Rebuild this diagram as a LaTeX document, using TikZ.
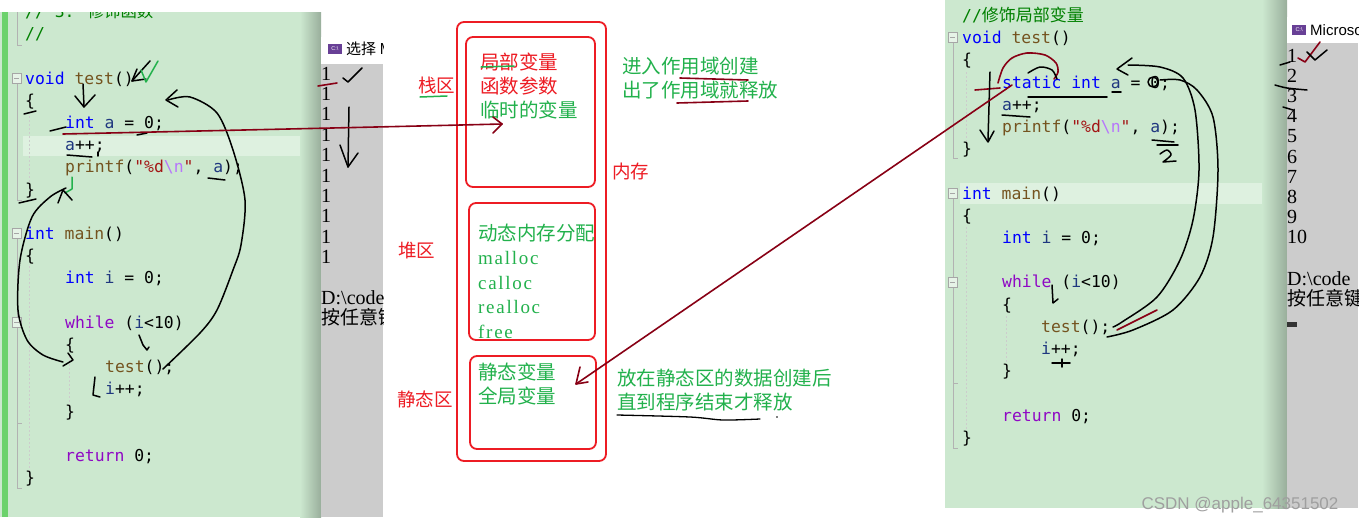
\documentclass[tikz,border=0pt]{standalone}
\usepackage{fontspec}
\setmainfont{Liberation Serif}
\newfontfamily\cjk{Noto Sans CJK SC}
\newfontfamily\codefont{DejaVu Sans Mono}
\newfontfamily\uifont{Liberation Sans}
\newfontfamily\spacedserif{Liberation Serif}[LetterSpace=9]
\definecolor{pgreen}{RGB}{204,232,207}
\definecolor{phl}{RGB}{222,241,224}
\definecolor{pbar}{RGB}{108,210,108}
\definecolor{cgray}{RGB}{204,204,204}
\definecolor{kw}{RGB}{0,0,255}
\definecolor{fn}{RGB}{116,83,31}
\definecolor{var}{RGB}{31,55,127}
\definecolor{str}{RGB}{163,21,21}
\definecolor{esc}{RGB}{183,118,251}
\definecolor{ctl}{RGB}{143,8,196}
\definecolor{cmt}{RGB}{0,128,0}
\definecolor{mred}{RGB}{237,28,36}
\definecolor{mgreen}{RGB}{34,177,76}
\definecolor{dred}{RGB}{136,0,21}
\definecolor{icon}{RGB}{104,64,150}
\tikzset{
  code/.style={anchor=base west, inner sep=0, font=\codefont\fontsize{16.4}{18}\selectfont},
  cons/.style={anchor=base west, inner sep=0, font=\fontsize{20}{22}\selectfont},
  conscjk/.style={anchor=base west, inner sep=0, font=\cjk\fontsize{19}{22}\selectfont},
  lbl/.style={anchor=west, inner sep=0, font=\cjk\fontsize{19.5}{22}\selectfont},
  latinlbl/.style={anchor=west, inner sep=0, font=\spacedserif\fontsize{19}{22}\selectfont},
  hw/.style={draw=black, line width=1.5pt, line cap=round, line join=round},
  hwr/.style={draw=dred, line width=1.6pt, line cap=round, line join=round},
  hwg/.style={draw=mgreen, line width=1.5pt, line cap=round, line join=round},
  membox/.style={draw=mred, line width=1.8pt, rounded corners=7pt},
  fold/.style={draw=gray!70, line width=0.7pt, fill=pgreen!50!white},
  guide/.style={draw=gray!60, line width=0.8pt},
  dguide/.style={draw=gray!40, line width=0.7pt, dash pattern=on 2pt off 2pt},
}
\begin{document}
\begin{tikzpicture}[x=1pt,y=-1pt]
\useasboundingbox (0,0) rectangle (1365,525);
\fill[white] (0,0) rectangle (1365,525);

% ================= LEFT PANEL =================
\fill[pgreen] (0,12) rectangle (321,517);
\fill[phl] (23,136) rectangle (321,156);
\shade[left color=pgreen,right color=pgreen!75!black] (300,12) rectangle (321,517);
\fill[pbar] (2,12) rectangle (8,517);
% fold guides
\draw[guide] (17,12) -- (17,45) -- (22,45);
\draw[guide] (17,83) -- (17,200) -- (22,200);
\draw[guide] (17,238) -- (17,488) -- (22,488);
\draw[guide] (17,423) -- (22,423);
\draw[dguide] (29,112) -- (29,185);
\draw[dguide] (29,266) -- (29,475);
\draw[dguide] (69,356) -- (69,405);
\filldraw[fold] (12,73) rectangle (21,83); \draw[gray!70,line width=0.8pt] (14,78) -- (19,78);
\filldraw[fold] (12,228) rectangle (21,238); \draw[gray!70,line width=0.8pt] (14,233) -- (19,233);
\filldraw[fold] (12,317) rectangle (21,327); \draw[gray!70,line width=0.8pt] (14,322) -- (19,322);
\begin{scope}
\clip (0,12) rectangle (321,517);
\node[code] (l0) at (25,17.5) {\textcolor{cmt}{// 3. {\cjk 修饰函数}}};
\node[code] (l1) at (25,39.7) {\textcolor{cmt}{//}};
\node[code] (l3) at (25,84.1) {\textcolor{kw}{void} \textcolor{fn}{test}()};
\node[code] (l4) at (25,106.3) {\{};
\node[code] (l5) at (65,128.5) {\textcolor{kw}{int} \textcolor{var}{a} = 0;};
\node[code] (l6) at (65,150.7) {\textcolor{var}{a}++;};
\node[code] (l7) at (65,172.9) {\textcolor{fn}{printf}(\textcolor{str}{"\%d}\textcolor{esc}{\textbackslash n}\textcolor{str}{"}, \textcolor{var}{a});};
\node[code] (l8) at (25,195.1) {\}};
\node[code] (l10) at (25,239.5) {\textcolor{kw}{int} \textcolor{fn}{main}()};
\node[code] (l11) at (25,261.7) {\{};
\node[code] (l12) at (65,283.9) {\textcolor{kw}{int} \textcolor{var}{i} = 0;};
\node[code] (l14) at (65,328.3) {\textcolor{ctl}{while} (\textcolor{var}{i}<10)};
\node[code] (l15) at (65,350.5) {\{};
\node[code] (l16) at (105,372.7) {\textcolor{fn}{test}();};
\node[code] (l17) at (105,394.9) {\textcolor{var}{i}++;};
\node[code] (l18) at (65,417.1) {\}};
\node[code] (l20) at (65,461.5) {\textcolor{ctl}{return} 0;};
\node[code] (l21) at (25,483.7) {\}};
\end{scope}

% left console
\fill[cgray] (321,64) rectangle (383,517);
\fill[white] (321,37) rectangle (383,64);
\begin{scope}
\clip (321,37) rectangle (383,517);
\fill[icon] (328,44) rectangle (342,54);
\node[white, font=\uifont\fontsize{5.5}{6}\selectfont, inner sep=0] (lic) at (335,49) {C:\textbackslash};
\node[anchor=west, inner sep=0, font=\cjk\fontsize{15}{16}\selectfont] (ltitle) at (346,49) {选择 M};
\foreach \k in {0,...,9} {
  \node[cons] (lc\k) at (321,{80+20.4*\k}) {1};
}
\node[cons] (lcd) at (321,304) {D:\textbackslash code};
\node[conscjk] (lck) at (321,324) {按任意键};
\end{scope}

% ================= RIGHT PANEL =================
\fill[pgreen] (945,0) rectangle (1287,508);
\fill[phl] (960,183) rectangle (1287,204);
\shade[left color=pgreen,right color=pgreen!75!black] (1262,0) rectangle (1287,508);
\draw[guide] (953,42) -- (953,158) -- (958,158);
\draw[guide] (953,197) -- (953,448) -- (958,448);
\draw[guide] (953,383) -- (958,383);
\draw[dguide] (966,72) -- (966,145);
\draw[dguide] (966,227) -- (966,435);
\draw[dguide] (1006,316) -- (1006,365);
\filldraw[fold] (948,32) rectangle (957,42); \draw[gray!70,line width=0.8pt] (950,37) -- (955,37);
\filldraw[fold] (948,188) rectangle (957,198); \draw[gray!70,line width=0.8pt] (950,193) -- (955,193);
\filldraw[fold] (948,277) rectangle (957,287); \draw[gray!70,line width=0.8pt] (950,282) -- (955,282);
\node[code] (r0) at (962,21.5) {\textcolor{cmt}{//{\cjk\fontsize{17}{18}\selectfont 修饰局部变量}}};
\node[code] (r1) at (962,43.7) {\textcolor{kw}{void} \textcolor{fn}{test}()};
\node[code] (r2) at (962,65.9) {\{};
\node[code] (r3) at (1002,88.1) {\textcolor{kw}{static} \textcolor{kw}{int} \textcolor{var}{a} = 0;};
\node[code] (r4) at (1002,110.3) {\textcolor{var}{a}++;};
\node[code] (r5) at (1002,132.5) {\textcolor{fn}{printf}(\textcolor{str}{"\%d}\textcolor{esc}{\textbackslash n}\textcolor{str}{"}, \textcolor{var}{a});};
\node[code] (r6) at (962,154.7) {\}};
\node[code] (r8) at (962,199.1) {\textcolor{kw}{int} \textcolor{fn}{main}()};
\node[code] (r9) at (962,221.3) {\{};
\node[code] (r10) at (1002,243.5) {\textcolor{kw}{int} \textcolor{var}{i} = 0;};
\node[code] (r12) at (1002,287.9) {\textcolor{ctl}{while} (\textcolor{var}{i}<10)};
\node[code] (r13) at (1002,310.1) {\{};
\node[code] (r14) at (1041,332.3) {\textcolor{fn}{test}();};
\node[code] (r15) at (1041,354.5) {\textcolor{var}{i}++;};
\node[code] (r16) at (1002,376.7) {\}};
\node[code] (r18) at (1002,421.1) {\textcolor{ctl}{return} 0;};
\node[code] (r19) at (962,443.3) {\}};

% right console
\fill[cgray] (1287,43) rectangle (1358,508);
\fill[white] (1287,17) rectangle (1358,43);
\begin{scope}
\clip (1287,17) rectangle (1358,508);
\fill[icon] (1292,25) rectangle (1306,35);
\node[white, font=\uifont\fontsize{5.5}{6}\selectfont, inner sep=0] (ric) at (1299,30) {C:\textbackslash};
\node[anchor=west, inner sep=0, font=\uifont\fontsize{15}{16}\selectfont] (rtitle) at (1310,30) {Microso};
\foreach \k in {1,...,10} {
  \node[cons] (rc\k) at (1287,{62+20.2*(\k-1)}) {\k};
}
\node[cons] (rcd) at (1287,285) {D:\textbackslash code};
\node[conscjk] (rck) at (1287,305) {按任意键};
\fill[black!80] (1287,322) rectangle (1297,327);
\end{scope}

% ================= MEMORY DIAGRAM =================
\draw[membox] (457,22) rectangle (606,461);
\draw[membox] (466,37) rectangle (595,187);
\draw[membox] (469,203) rectangle (595,340);
\draw[membox] (470,356) rectangle (596,449);
\node[lbl, text=mred, font=\cjk\fontsize{18.5}{20}\selectfont] (zhan) at (418,85) {栈区};
\node[lbl, text=mred, font=\cjk\fontsize{18.5}{20}\selectfont] (dui) at (398,251) {堆区};
\node[lbl, text=mred, font=\cjk\fontsize{18.5}{20}\selectfont] (jing) at (397,399) {静态区};
\node[lbl, text=mred, font=\cjk\fontsize{18.5}{20}\selectfont] (nc) at (612,171) {内存};
\node[lbl, text=mred] (s1) at (480,62) {局部变量};
\node[lbl, text=mred] (s2) at (480,86) {函数参数};
\node[lbl, text=mgreen] (s3) at (480,110) {临时的变量};
\node[lbl, text=mgreen] (n1) at (622,66) {进入作用域创建};
\node[lbl, text=mgreen] (n2) at (622,90) {出了作用域就释放};
\node[lbl, text=mgreen] (h1) at (478,233) {动态内存分配};
\node[latinlbl, text=mgreen] (h2) at (478,258) {malloc};
\node[latinlbl, text=mgreen] (h3) at (478,283) {calloc};
\node[latinlbl, text=mgreen] (h4) at (478,307) {realloc};
\node[latinlbl, text=mgreen] (h5) at (478,332) {free};
\node[lbl, text=mgreen] (j1) at (478,372) {静态变量};
\node[lbl, text=mgreen] (j2) at (478,396) {全局变量};
\node[lbl, text=mgreen] (m1) at (617,378) {放在静态区的数据创建后};
\node[lbl, text=mgreen] (m2) at (617,402) {直到程序结束才释放};
\coordinate (dot) at (777,417);

% underlines in the middle
\draw[hwg] (420,97) -- (447,96);
\draw[hwg] (481,67) -- (514,66);
\draw[hwr] (680,78) -- (748,80);
\draw[hwr] (677,103) -- (748,101);
\draw[hw, line width=1.3pt] plot[smooth] coordinates {(617,415) (690,417) (723,420) (760,419)};
\fill (dot) circle (0.9);

% ================= HANDWRITING LEFT =================
\draw[hw] (150,61) -- (132,81);
\draw[hw] (146,79) -- (132,81) -- (137,69);
\draw[hwg] (141,70) -- (146,82) -- (158,61);
\draw[hw] (83,84) -- (84,106);
\draw[hw] (75,96) -- (84,107) -- (95,95);
\draw[hw] (24,114) -- (36,111);
\draw[hw] (50,131) -- (66,127);
\draw[hw] (137,135) -- (147,133);
\draw[hw] (67,155) -- (92,157);
\draw[hw] (98,152) -- (98,156);
\draw[hw] (208,178) -- (225,180);
\draw[hw] (19,203) -- (36,199);
\draw[hwg] (72,177) -- (72,189) -- (65,193);
\draw[hw] plot[smooth] coordinates {(63,362) (43,355) (27,340) (18,310) (20,260) (32,217) (50,197) (66,188)};
\draw[hw] (68,353) -- (73,360) -- (63,366);
\draw[hw] (58,203) -- (63,190) -- (72,200);
\draw[hw] plot[smooth] coordinates {(163,369) (200,333) (217,310) (233,270) (241,245) (245,200) (233,150) (217,113) (190,97) (168,100)};
\draw[hw] (177,90) -- (166,100) -- (178,107);
\draw[hw] (139,335) -- (143,345) -- (147,350) -- (149,347);
\draw[hw] (95,377) -- (93,395) -- (100,397);
% left console marks
\draw[hw] (343,78) -- (348,82) -- (362,68);
\draw[hwr] (318,86) -- (337,83);
\draw[hw] (349,107) -- (348,167);
\draw[hw] (340,145) -- (348,167) -- (358,153);

% ================= HANDWRITING RIGHT =================
\draw[hwr] plot[smooth] coordinates {(998,83) (1003,68) (1012,58) (1027,53) (1045,55) (1056,63) (1058,72) (1054,79)};
\draw[hw] plot[smooth] coordinates {(1028,73) (1040,67) (1052,70) (1057,79)};
\draw[hw] (1028,97) -- (1107,97);
\draw[hwr] (975,90) -- (1000,88);
\draw[hw] (990,72) -- (988,140);
\draw[hw] (980,130) -- (988,142) -- (994,131);
\draw[hw] (1002,115) -- (1030,117);
\draw[hw] (1112,92) -- (1121,92);
\draw[hw] (1152,140) -- (1174,142);
\draw[hw] (1157,145) -- (1178,145);
\draw[hw] plot[smooth] coordinates {(1160,154) (1167,150) (1171,155) (1163,162)} -- (1176,161);
\draw[hw] (1153,82) ellipse (5 and 5);
\draw[hw] plot[smooth] coordinates {(1128,65) (1160,67) (1183,78) (1195,110) (1199,170) (1193,220) (1180,260) (1157,297) (1122,322) (1113,327)};
\draw[hw] (1132,58) -- (1117,69) -- (1128,75);
\draw[hw] plot[smooth] coordinates {(1160,80) (1180,80) (1197,90) (1213,117) (1218,170) (1213,237) (1200,277) (1173,310) (1133,330) (1107,337)};
\draw[hwr] (1117,330) -- (1157,310);
\draw[hw] (1052,285) -- (1053,303) -- (1058,299);
\draw[hw] (1052,363) -- (1070,363);
\draw[hw] (1062,359) -- (1062,367);
% right console marks
\draw[hwr] (1298,58) -- (1305,62) -- (1320,42);
\draw[hw] (1307,52) -- (1315,60) -- (1327,50);
\draw[hw] (1280,65) -- (1290,62);
\draw[hw] plot[smooth] coordinates {(1275,85) (1287,88) (1307,90)};
\draw[hw] (1283,107) -- (1293,110);

% ================= RED ARROWS =================
\coordinate (a1s) at (63,134);
\coordinate (a1e) at (502,124);
\draw[hwr] (a1s) .. controls (200,131) and (380,127) .. (a1e);
\draw[hwr] (493,117) -- (a1e) -- (493,133);
\coordinate (a2s) at (1012,85);
\coordinate (a2e) at (576,384);
\draw[hwr] (a2s) -- (a2e);
\draw[hwr] (580,367) -- (a2e) -- (588,382);

% watermark
\node[font=\uifont\fontsize{17}{18}\selectfont, text=gray!75, inner sep=0] (wm) at (1240,505) {CSDN @apple\_64351502};
\end{tikzpicture}
\end{document}
